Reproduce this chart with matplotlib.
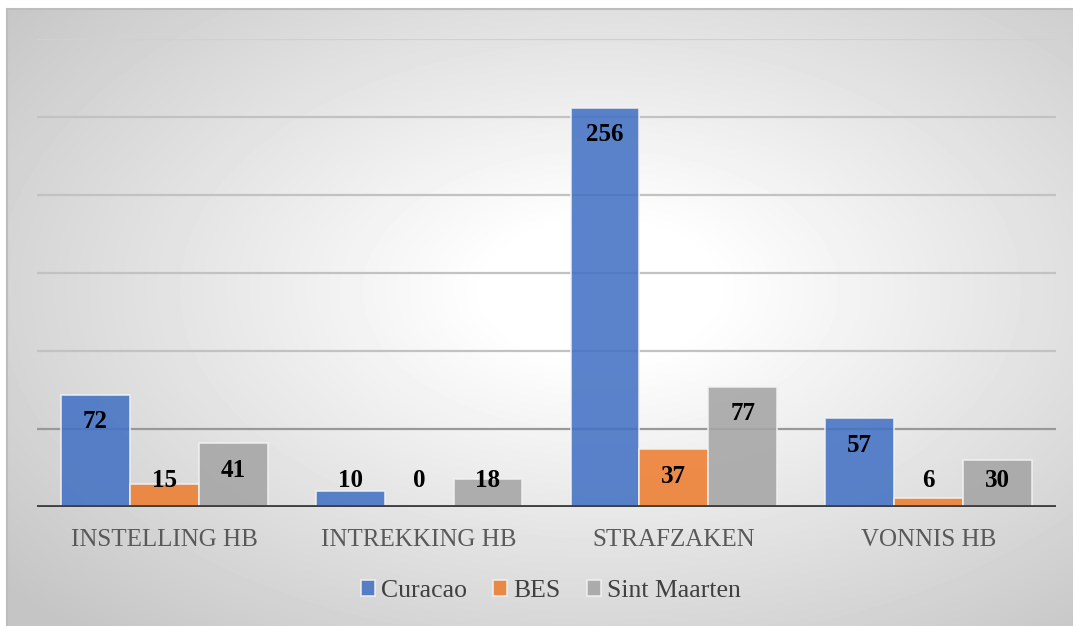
import numpy as np
import matplotlib
matplotlib.use("Agg")
import matplotlib.pyplot as plt

categories = ["INSTELLING HB", "INTREKKING HB", "STRAFZAKEN", "VONNIS HB"]
series = ["Curacao", "BES", "Sint Maarten"]
curacao = [72, 10, 256, 57]
bes = [15, 0, 37, 6]
sint_maarten = [41, 18, 77, 30]
colors = ["#4472C4", "#ED7D31", "#A5A5A5"]

plt.rcParams["font.family"] = ["Liberation Serif", "DejaVu Serif"]

fig = plt.figure(figsize=(10.73, 6.26), dpi=100)

# radial gradient background for the chart area
bg = fig.add_axes([7 / 1073, 0, 1 - 7 / 1073, 1 - 9 / 626])
h, w = 617, 1066
yy, xx = np.mgrid[0:h, 0:w]
u = (xx + 7 - 600) / 560.0
v = (yy + 9 - 290) / 330.0
r = np.sqrt(u ** 2 + v ** 2)
shade = 1 - 0.23 * np.clip((r - 0.2) / 1.2, 0, 1)
bg.imshow(shade, cmap="gray", vmin=0, vmax=1, aspect="auto", interpolation="bilinear")
bg.set_axis_off()
fig.add_artist(plt.Line2D([7 / 1073, 1], [1 - 9 / 626, 1 - 9 / 626], color="#bdbdbd", lw=1.5))
fig.add_artist(plt.Line2D([7 / 1073, 7 / 1073], [0, 1 - 9 / 626], color="#bdbdbd", lw=1.5))

ax = fig.add_axes([37 / 1073, (626 - 507) / 626, (1056 - 37) / 1073, (507 - 39) / 626])
ax.patch.set_alpha(0)
ax.set_xlim(-0.5, 3.5)
ax.set_ylim(0, 300)

for g in [50, 100, 150, 200, 250]:
    ax.axhline(g, color="#999999" if g == 50 else "#c2c2c2", lw=1.6, zorder=1)
ax.axhline(300, color="#d0d0d0", lw=1.6, zorder=1)

x = np.arange(len(categories))
bw = 0.27
for i, (vals, name) in enumerate(zip([curacao, bes, sint_maarten], series)):
    pos = x + (i - 1) * bw
    ax.bar(pos, vals, bw, color=colors[i], alpha=0.88, edgecolor="#f2f2f2",
           linewidth=1.2, label=name, zorder=2)
    for p, val in zip(pos, vals):
        ax.text(p, max(val - 17.3, 16.7), str(val), ha="center", va="center",
                fontsize=18, fontweight="bold", color="black", zorder=4)

ax.axhline(0, color="#404040", lw=3.5, zorder=3)

ax.set_xticks(x)
ax.set_xticklabels(categories, fontsize=18, color="#595959")
ax.tick_params(axis="x", length=0, pad=16)
ax.set_yticks([])
for s in ax.spines.values():
    s.set_visible(False)

leg = fig.legend(loc="center", bbox_to_anchor=(551 / 1073, 1 - 591 / 626), ncol=3,
                 frameon=False, fontsize=18.5, handlelength=0.55, handleheight=0.55,
                 handletextpad=0.25, columnspacing=1.0, labelcolor="#404040")

fig.savefig("out.png", dpi=100)
